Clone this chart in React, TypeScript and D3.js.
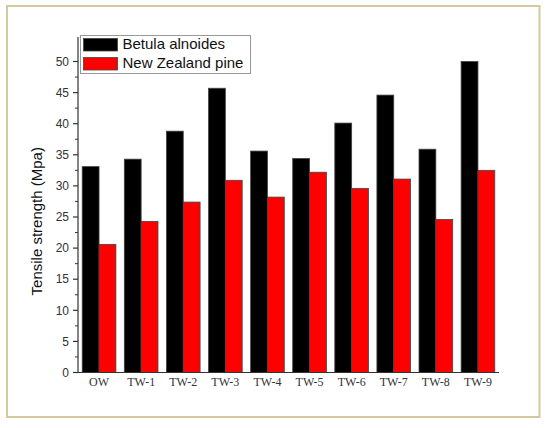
import React from "react";
import * as d3 from "d3";

const categories = ["OW", "TW-1", "TW-2", "TW-3", "TW-4", "TW-5", "TW-6", "TW-7", "TW-8", "TW-9"];
const seriesNames = ["Betula alnoides", "New Zealand pine"];
const betula = [33.1, 34.3, 38.8, 45.7, 35.6, 34.4, 40.1, 44.6, 35.9, 50.0];
const pine = [20.6, 24.3, 27.4, 30.9, 28.2, 32.2, 29.6, 31.1, 24.6, 32.5];
const yTicks = [0, 5, 10, 15, 20, 25, 30, 35, 40, 45, 50];
const colors = ["#000000", "#ff0000"];

export default function App() {
  const W = 550, H = 428;
  const x0 = 78, x1 = 499, yBase = 372.5, yTop = 61.5;
  const x = d3.scaleBand<string>().domain(categories).range([x0, x1]).paddingInner(0.2).paddingOuter(0.1);
  const xs = d3.scaleBand<number>().domain([0, 1]).range([0, x.bandwidth()]);
  const y = d3.scaleLinear().domain([0, 50]).range([yBase, yTop]);
  const minor = d3.range(2.5, 50, 5);
  const series = [betula, pine];

  return (
    <div style={{ position: "fixed", left: 0, top: 0 }}>
      <svg width={W} height={H} style={{ display: "block", background: "#fff" }}>
        <rect x={7} y={6} width={532.5} height={411} fill="none" stroke="#d5c89f" strokeWidth={2} />
        {series.map((vals, si) =>
          vals.map((v, i) => (
            <rect
              key={`${si}-${i}`}
              x={(x(categories[i]) ?? 0) + (xs(si) ?? 0)}
              y={y(v)}
              width={xs.bandwidth()}
              height={yBase - y(v)}
              fill={colors[si]}
              stroke="#444"
              strokeWidth={0.8}
            />
          ))
        )}
        {/* axes */}
        <line x1={x0} x2={x0} y1={yBase} y2={37} stroke="#333" strokeWidth={1.2} />
        <line x1={x0} x2={x1} y1={yBase} y2={yBase} stroke="#333" strokeWidth={1.2} />
        {yTicks.map((t) => (
          <g key={t}>
            <line x1={x0 - 5} x2={x0} y1={y(t)} y2={y(t)} stroke="#333" strokeWidth={1.2} />
            <text x={x0 - 9} y={y(t)} dy="0.35em" textAnchor="end" fontFamily="Arial, 'Liberation Sans', sans-serif" fontSize={12} fill="#333">
              {t}
            </text>
          </g>
        ))}
        {minor.map((t) => (
          <line key={t} x1={x0 - 3} x2={x0} y1={y(t)} y2={y(t)} stroke="#333" strokeWidth={1} />
        ))}
        {categories.map((c) => (
          <text key={c} x={(x(c) ?? 0) + x.bandwidth() / 2} y={385.5} textAnchor="middle" fontFamily="'Times New Roman', 'Liberation Serif', serif" fontSize={12} fill="#333">
            {c}
          </text>
        ))}
        <text
          transform={`translate(42, ${(yBase + 70) / 2}) rotate(-90)`}
          textAnchor="middle"
          fontFamily="Arial, 'Liberation Sans', sans-serif"
          fontSize={15}
          fill="#111"
        >
          Tensile strength (Mpa)
        </text>
        {/* legend */}
        <rect x={80.5} y={35.5} width={170} height={38} fill="#fff" stroke="#999" strokeWidth={1} />
        {seriesNames.map((n, i) => (
          <g key={n}>
            <rect x={83.5} y={38.5 + i * 19} width={34} height={12.5} fill={colors[i]} stroke="#444" strokeWidth={0.8} />
            <text x={122.5} y={49 + i * 19.3} fontFamily="Arial, 'Liberation Sans', sans-serif" fontSize={15} fill="#111">
              {n}
            </text>
          </g>
        ))}
      </svg>
    </div>
  );
}
